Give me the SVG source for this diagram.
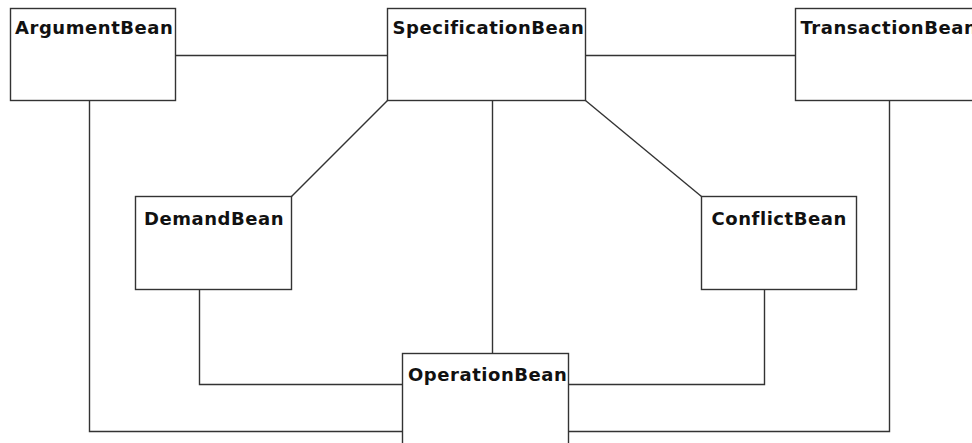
<svg xmlns="http://www.w3.org/2000/svg" width="972" height="443" viewBox="0 0 972 443">
  <style>
    .box { fill: #ffffff; stroke: #333333; stroke-width: 1.4; }
    .label { font-family: "DejaVu Sans", "Liberation Sans", sans-serif; font-weight: bold; font-size: 18px; letter-spacing: 0.55px; fill: #111111; }
    .link { fill: none; stroke: #333333; stroke-width: 1.4; }
  </style>
  <rect width="972" height="443" fill="#ffffff"/>

  <!-- associations between beans -->
  <g id="connectors">
    <line class="link" x1="175.5" y1="55.5" x2="387.5" y2="55.5"/>
    <line class="link" x1="585.5" y1="55.5" x2="795.5" y2="55.5"/>
    <line class="link" x1="387.5" y1="100.5" x2="291.5" y2="196.5"/>
    <line class="link" x1="585.5" y1="100.5" x2="701.5" y2="196.5"/>
    <line class="link" x1="492.5" y1="100.5" x2="492.5" y2="353.5"/>
    <polyline class="link" points="89.5,100.5 89.5,431.5 402.5,431.5"/>
    <polyline class="link" points="889.5,100.5 889.5,431.5 568.5,431.5"/>
    <polyline class="link" points="199.5,289.5 199.5,384.5 402.5,384.5"/>
    <polyline class="link" points="764.5,289.5 764.5,384.5 568.5,384.5"/>
  </g>

  <g id="ArgumentBean">
    <rect class="box" x="10.5" y="8.5" width="165" height="92"/>
    <text class="label" x="15" y="34">ArgumentBean</text>
  </g>

  <g id="SpecificationBean">
    <rect class="box" x="387.5" y="8.5" width="198" height="92"/>
    <text class="label" x="392.5" y="34">SpecificationBean</text>
  </g>

  <g id="TransactionBean">
    <rect class="box" x="795.5" y="8.5" width="200" height="92"/>
    <text class="label" x="800.5" y="34">TransactionBean</text>
  </g>

  <g id="DemandBean">
    <rect class="box" x="135.5" y="196.5" width="156" height="93"/>
    <text class="label" x="144" y="224.5">DemandBean</text>
  </g>

  <g id="ConflictBean">
    <rect class="box" x="701.5" y="196.5" width="155" height="93"/>
    <text class="label" x="711.5" y="224.5">ConflictBean</text>
  </g>

  <g id="OperationBean">
    <rect class="box" x="402.5" y="353.5" width="166" height="100"/>
    <text class="label" x="408" y="381">OperationBean</text>
  </g>
</svg>
